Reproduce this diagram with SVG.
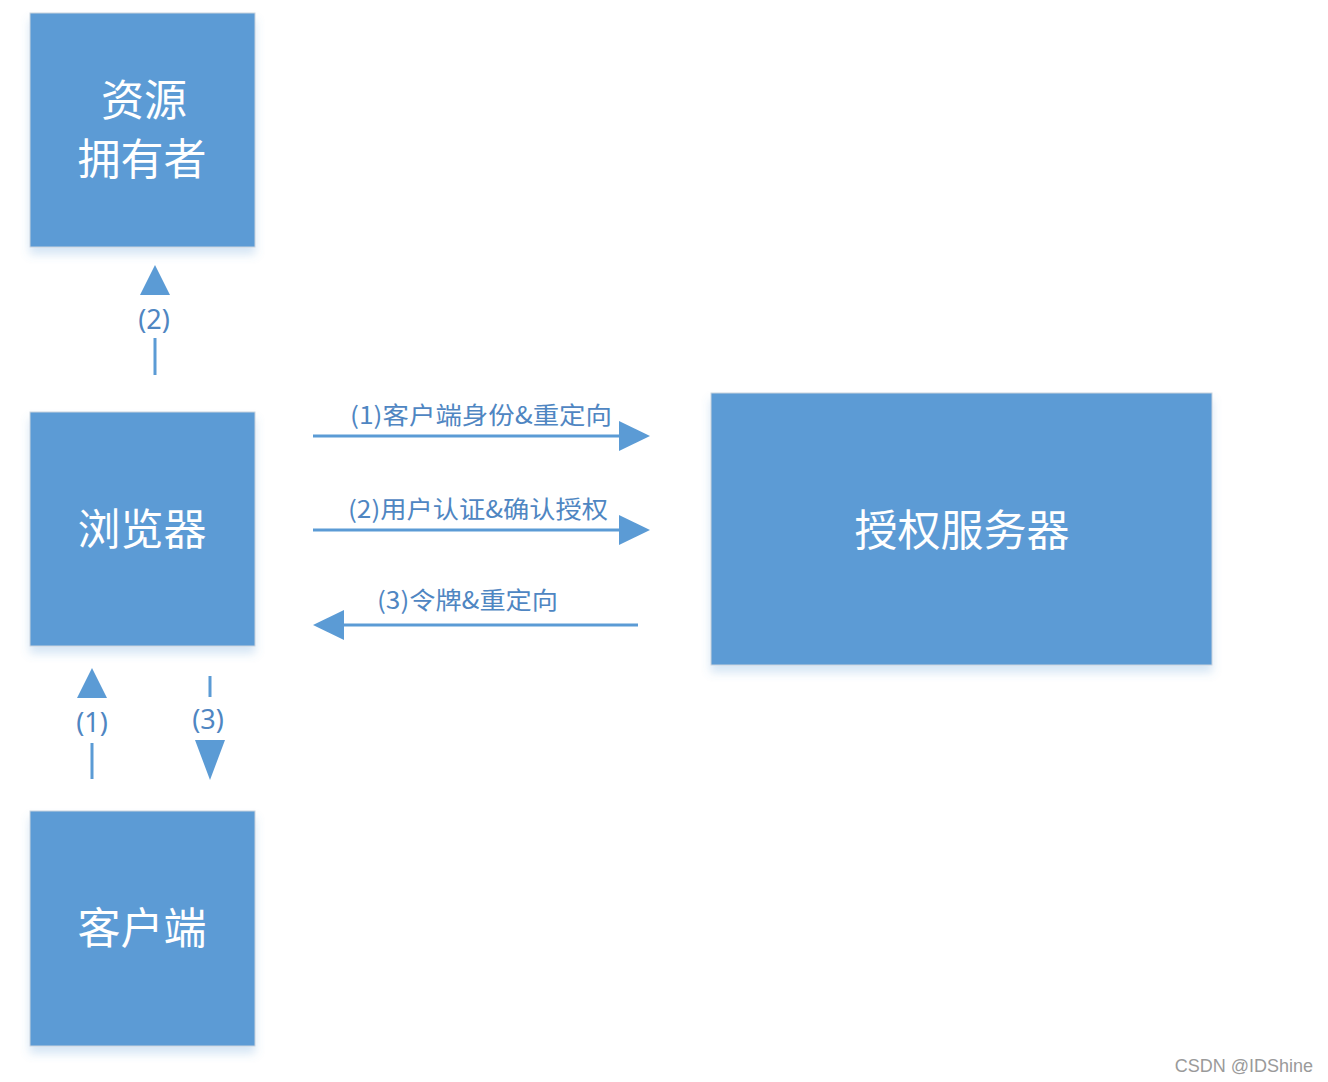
<svg xmlns="http://www.w3.org/2000/svg" width="1328" height="1082" viewBox="0 0 1328 1082">
<style>
.box{fill:#5B9BD5;stroke:#c9d3de;stroke-width:1}
.bt{fill:#ffffff;font-family:"Noto Sans CJK SC","Noto Sans",sans-serif;font-size:43px;text-anchor:middle}
.ln{stroke:#5B9BD5;stroke-width:3;fill:none}
.hd{fill:#5B9BD5}
.lb{fill:#4f86c2;font-family:"Noto Sans CJK SC","Noto Sans",sans-serif;font-size:24px}
.vl{fill:#4f86c2;font-family:"Noto Sans","Noto Sans CJK SC",sans-serif;font-size:27px;text-anchor:middle}
</style>
<defs>
<filter id="sh" x="-10%" y="-10%" width="120%" height="130%">
<feGaussianBlur in="SourceAlpha" stdDeviation="5"/>
<feOffset dx="0" dy="7" result="b"/>
<feFlood flood-color="#5B9BD5" flood-opacity="0.25"/>
<feComposite in2="b" operator="in"/>
<feMerge><feMergeNode/><feMergeNode in="SourceGraphic"/></feMerge>
</filter>
</defs>
<rect width="1328" height="1082" fill="#ffffff"/>
<g id="resource-owner">
<rect class="box" x="30" y="13" width="225" height="234" filter="url(#sh)"/>
<text class="bt" x="144" y="116">资源</text>
<text class="bt" x="142" y="175">拥有者</text>
</g>
<g id="browser">
<rect class="box" x="30" y="412" width="225" height="234" filter="url(#sh)"/>
<text class="bt" x="142" y="545">浏览器</text>
</g>
<g id="client">
<rect class="box" x="30" y="811" width="225" height="235" filter="url(#sh)"/>
<text class="bt" x="142" y="944">客户端</text>
</g>
<g id="auth-server">
<rect class="box" x="711" y="393" width="501" height="272" filter="url(#sh)"/>
<text class="bt" x="962" y="546">授权服务器</text>
</g>
<g id="connectors">
<line class="ln" x1="155" y1="375" x2="155" y2="338"/>
<polygon class="hd" points="155,265 140,295 170,295"/>
<text class="vl" x="154" y="329">(2)</text>
<line class="ln" x1="92" y1="779" x2="92" y2="743"/>
<polygon class="hd" points="92,668 77,698 107,698"/>
<text class="vl" x="92" y="732">(1)</text>
<line class="ln" x1="210" y1="676" x2="210" y2="697"/>
<polygon class="hd" points="210,780 195,740 225,740"/>
<text class="vl" x="208" y="729">(3)</text>
<line class="ln" x1="313" y1="436" x2="622" y2="436"/>
<polygon class="hd" points="650,436 619,421 619,451"/>
<text class="lb" x="350" y="424" textLength="262" lengthAdjust="spacingAndGlyphs">(1)客户端身份&amp;重定向</text>
<line class="ln" x1="313" y1="530" x2="622" y2="530"/>
<polygon class="hd" points="650,530 619,515 619,545"/>
<text class="lb" x="348" y="518" textLength="260" lengthAdjust="spacingAndGlyphs">(2)用户认证&amp;确认授权</text>
<line class="ln" x1="638" y1="625" x2="340" y2="625"/>
<polygon class="hd" points="313,625 344,610 344,640"/>
<text class="lb" x="377" y="609" textLength="181" lengthAdjust="spacingAndGlyphs">(3)令牌&amp;重定向</text>
</g>
<text x="1313" y="1072" fill="#9a9a9a" font-family="Liberation Sans, Arial, sans-serif" font-size="18" text-anchor="end">CSDN @IDShine</text>
</svg>
